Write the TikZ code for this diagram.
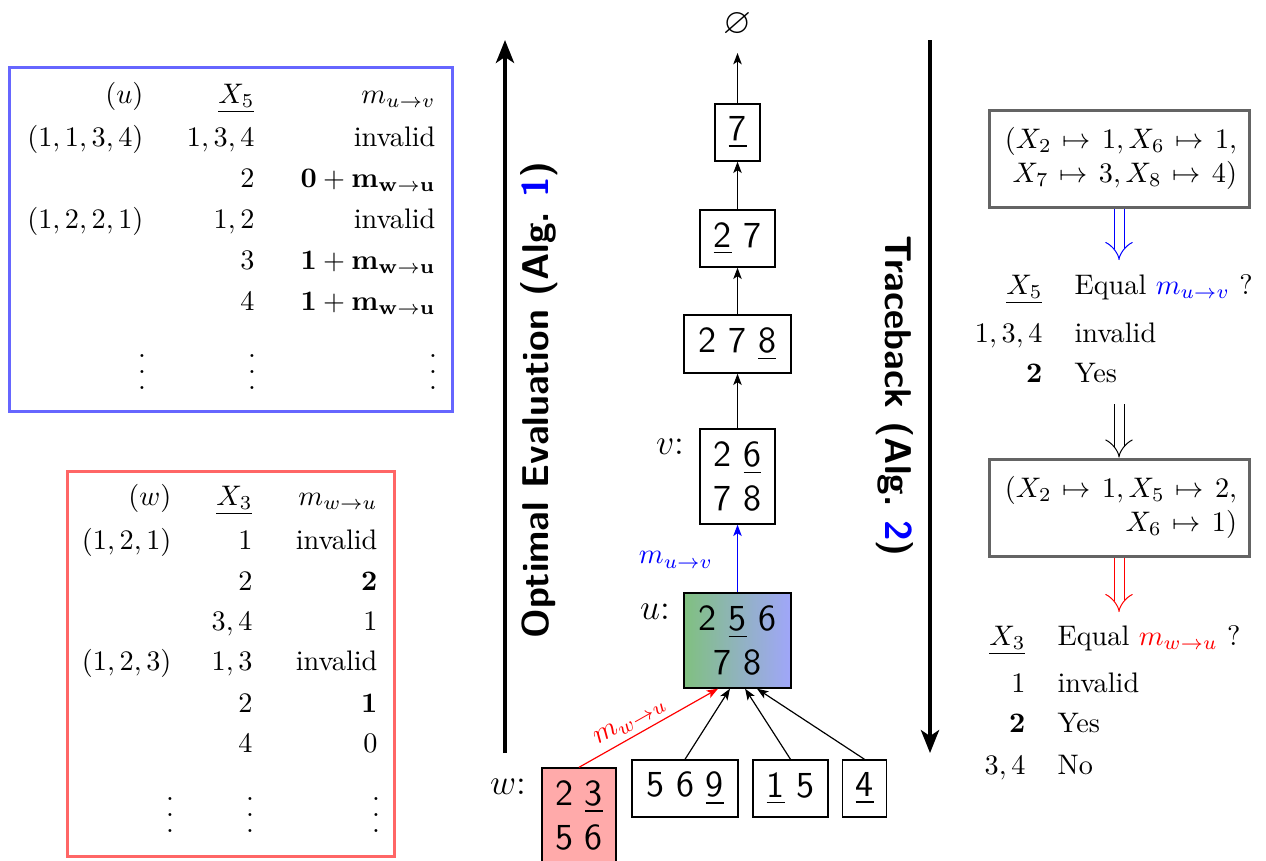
\RequirePackage{fix-cm}
\documentclass[tikz,border=0pt]{standalone}
\usepackage{amsmath,amssymb}
\usetikzlibrary{arrows.meta,calc}
\definecolor{ublue}{RGB}{102,102,255}
\definecolor{ured}{RGB}{255,102,102}
\definecolor{ugreenL}{RGB}{128,192,128}
\definecolor{ublueR}{RGB}{160,166,250}
\definecolor{wfill}{RGB}{255,170,170}
\definecolor{gframe}{RGB}{100,100,100}
\newdimen\pxu \pxu=0.354pt
\newcommand{\tfont}{\normalsize}
\newcommand{\bfont}{\sffamily\fontsize{13}{15.6}\selectfont}
\newcommand{\rfont}{\normalsize\thickmuskip=7mu plus 2mu}
\newcommand{\myvdots}{\vbox{\baselineskip=5.7pt\lineskiplimit=0pt\hbox{.}\hbox{.}\hbox{.}}}
\begin{document}
\begin{tikzpicture}[x=0.354pt,y=0.354pt,
 cell/.style={inner sep=0pt, font=\tfont, text height=7.5pt, text depth=2.5pt},
 ce/.style={cell, anchor=east},
 cw/.style={cell, anchor=west},
 dts/.style={inner sep=0pt, font=\tfont},
 vbox/.style={draw, line width=0.5pt, font=\bfont, inner sep=0pt, align=center},
 thinarr/.style={line width=0.42pt, -{Stealth[length=4pt,width=3pt,inset=1pt]}},
 bigarrow/.style={line width=1.4pt, -{Stealth[length=8.1pt,width=6.4pt,inset=2.1pt]}},
 dblarr/.style={double, line width=0.35pt, double distance=3.2pt, -{Implies[scale=1.5]}},
 tbox/.style={draw=gframe, line width=1.06pt, minimum width=260\pxu, minimum height=97\pxu, inner sep=12\pxu, text width=236\pxu, align=flush right, font=\rfont},
 lbl/.style={font=\fontsize{12.7}{15}\selectfont, inner sep=0pt},
 ttl/.style={inner sep=0pt, font=\sffamily\bfseries\fontsize{13.2}{16}\selectfont}
]
\useasboundingbox (0,0) rectangle (1266,-860);

% ---------- blue table ----------
\node[draw=ublue, line width=1.06pt, minimum width=443\pxu, minimum height=344\pxu, anchor=north west, inner sep=0pt] (ubox) at (8,-66) {};
\node[ce] (u00) at (144,-96) {$(u)$};
\node[ce] (u01) at (255,-96) {$\underline{X_5}$};
\node[ce] (u02) at (436,-96) {$m_{u\to v}$};
\node[ce] (u10) at (144,-139) {$(1,1,3,4)$};
\node[ce] (u11) at (255,-139) {$1,3,4$};
\node[ce] (u12) at (436,-139) {invalid};
\node[ce] (u21) at (255,-180) {$2$};
\node[ce] (u22) at (436,-180) {$\mathbf{0+m_{w\to u}}$};
\node[ce] (u30) at (144,-221) {$(1,2,2,1)$};
\node[ce] (u31) at (255,-221) {$1,2$};
\node[ce] (u32) at (436,-221) {invalid};
\node[ce] (u41) at (255,-262) {$3$};
\node[ce] (u42) at (436,-262) {$\mathbf{1+m_{w\to u}}$};
\node[ce] (u51) at (255,-303) {$4$};
\node[ce] (u52) at (436,-303) {$\mathbf{1+m_{w\to u}}$};
\node[dts] (ud0) at (142,-372) {\myvdots};
\node[dts] (ud1) at (252,-372) {\myvdots};
\node[dts] (ud2) at (433,-372) {\myvdots};

% ---------- red table ----------
\node[draw=ured, line width=1.06pt, minimum width=327\pxu, minimum height=385\pxu, anchor=north west, inner sep=0pt] (wbox) at (66,-470) {};
\node[ce] (w00) at (172,-498) {$(w)$};
\node[ce] (w01) at (253,-498) {$\underline{X_3}$};
\node[ce] (w02) at (378,-498) {$m_{w\to u}$};
\node[ce] (w10) at (172,-542) {$(1,2,1)$};
\node[ce] (w11) at (253,-542) {$1$};
\node[ce] (w12) at (378,-542) {invalid};
\node[ce] (w21) at (253,-583) {$2$};
\node[ce] (w22) at (378,-583) {$\mathbf{2}$};
\node[ce] (w31) at (253,-623) {$3,4$};
\node[ce] (w32) at (378,-623) {$1$};
\node[ce] (w40) at (172,-663) {$(1,2,3)$};
\node[ce] (w41) at (253,-663) {$1,3$};
\node[ce] (w42) at (378,-663) {invalid};
\node[ce] (w51) at (253,-705) {$2$};
\node[ce] (w52) at (378,-705) {$\mathbf{1}$};
\node[ce] (w61) at (253,-745) {$4$};
\node[ce] (w62) at (378,-745) {$0$};
\node[dts] (wd0) at (170,-815) {\myvdots};
\node[dts] (wd1) at (250,-815) {\myvdots};
\node[dts] (wd2) at (376,-815) {\myvdots};

% ---------- big arrows and titles ----------
\coordinate (ea0) at (505,-753);
\coordinate (ea1) at (505,-40);
\draw[bigarrow] (ea0) -- (ea1);
\coordinate (tb0) at (930,-40);
\coordinate (tb1) at (930,-753);
\draw[bigarrow] (tb0) -- (tb1);
\node[ttl, rotate=90, anchor=base] (oe) at (548,-400) {Optimal Evaluation (Alg.~\textcolor{blue}{1})};
\node[ttl, rotate=-90, anchor=base] (trb) at (885,-396) {Traceback (Alg.~\textcolor{blue}{2})};

% ---------- center tree ----------
\node[lbl] (empty) at (737,-25) {$\varnothing$};
\coordinate (top) at (737.5,-53);
\node[vbox, minimum width=45\pxu, minimum height=57\pxu] (b7) at (737.5,-132.5) {\underline{7}};
\node[vbox, minimum width=75\pxu, minimum height=57\pxu] (b27) at (737.5,-238.5) {\underline{2} 7};
\node[vbox, minimum width=107\pxu, minimum height=58\pxu] (b278) at (737.5,-344) {2 7 \underline{8}};
\node[vbox, minimum width=75\pxu, minimum height=95\pxu] (bv) at (737.5,-476.5) {2 \underline{6}\\7 8};
\node[vbox, minimum width=107\pxu, minimum height=95\pxu, left color=ugreenL, right color=ublueR] (bu) at (737.5,-640.5) {2 \underline{5} 6\\7 8};
\node[vbox, minimum width=74\pxu, minimum height=94\pxu, fill=wfill] (bw) at (579,-815) {2 \underline{3}\\5 6};
\node[vbox, minimum width=106\pxu, minimum height=57\pxu] (b569) at (685,-788.5) {5 6 \underline{9}};
\node[vbox, minimum width=75\pxu, minimum height=57\pxu] (b15) at (790.5,-788.5) {\underline{1} 5};
\node[vbox, minimum width=44\pxu, minimum height=57\pxu] (b4) at (864.5,-788.5) {\underline{4}};

\node[lbl] (lv) at (670,-447) {$v$:};
\node[lbl] (lu) at (655,-612) {$u$:};
\node[lbl] (lw) at (508,-787) {$w$:};

\draw[thinarr] (b7) -- (top);
\draw[thinarr] (b27) -- (b7);
\draw[thinarr] (b278) -- (b27);
\draw[thinarr] (bv) -- (b278);
\draw[thinarr, blue] (bu) -- (bv);
\node[blue, font=\tfont, inner sep=0pt] (muv) at (676,-560) {$m_{u\to v}$};
\draw[thinarr, red] (bw.north) -- node[pos=0.42, sloped, above, font=\tfont, inner sep=2pt] (mwu) {$m_{w\to u}$} ($(bu.south west)!0.32!(bu.south east)$);
\draw[thinarr] (b569.north) -- ($(bu.south west)!0.43!(bu.south east)$);
\draw[thinarr] (b15.north) -- ($(bu.south west)!0.57!(bu.south east)$);
\draw[thinarr] (b4.north) -- ($(bu.south west)!0.68!(bu.south east)$);

% ---------- right side ----------
\node[tbox] (r1) at (1119,-158.5) {$(X_2\mapsto 1, X_6\mapsto 1,$\\$X_7\mapsto 3, X_8\mapsto 4)$};
\node[tbox] (r2) at (1119,-507.5) {$(X_2\mapsto 1, X_5\mapsto 2,$\\$X_6\mapsto 1)$};
\coordinate (d1) at (1119,-260);
\coordinate (d2s) at (1119,-404);
\coordinate (d3) at (1119,-612);
\draw[dblarr, blue] (r1.south) -- (d1);
\draw[dblarr, black] (d2s) -- (r2.north);
\draw[dblarr, red] (r2.south) -- (d3);

\node[ce] (a00) at (1043,-287) {$\underline{X_5}$};
\node[cw] (a01) at (1074,-287) {Equal \textcolor{blue}{$m_{u\to v}$} ?};
\node[ce] (a10) at (1043,-335) {$1,3,4$};
\node[cw] (a11) at (1074,-335) {invalid};
\node[ce] (a20) at (1043,-375) {$\mathbf{2}$};
\node[cw] (a21) at (1074,-375) {Yes};

\node[ce] (c00) at (1026,-638) {$\underline{X_3}$};
\node[cw] (c01) at (1057,-638) {Equal \textcolor{red}{$m_{w\to u}$} ?};
\node[ce] (c10) at (1026,-685) {$1$};
\node[cw] (c11) at (1057,-685) {invalid};
\node[ce] (c20) at (1026,-725) {$\mathbf{2}$};
\node[cw] (c21) at (1057,-725) {Yes};
\node[ce] (c30) at (1026,-767) {$3,4$};
\node[cw] (c31) at (1057,-767) {No};
\end{tikzpicture}
\end{document}
